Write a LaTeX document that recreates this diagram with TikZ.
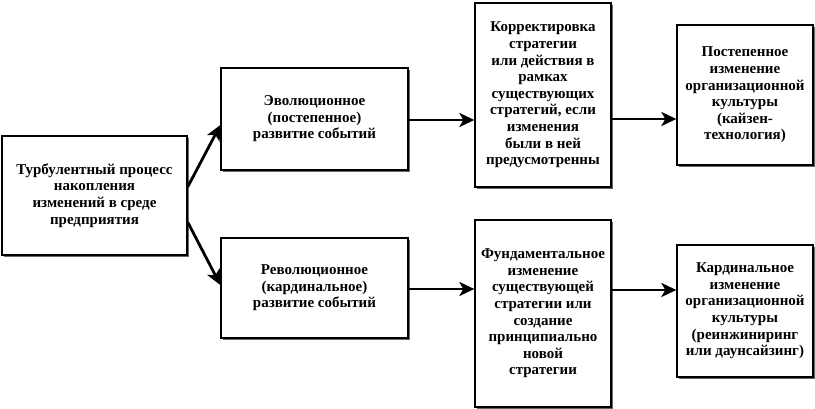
\documentclass[tikz,border=0pt]{standalone}
\usepackage{fontspec}
\setmainfont{Liberation Serif}
\usetikzlibrary{calc,arrows.meta}
\begin{document}
\begin{tikzpicture}[x=1pt,y=-1pt,
  box/.style={draw=black,line width=1.3pt,fill=white,align=center,inner sep=0pt,
    font=\fontsize{15}{16.6}\selectfont\bfseries,
    preaction={fill=black!60,transform canvas={xshift=2.2pt,yshift=-2.2pt}}},
  arr/.style={line width=2.8pt,-{Stealth[length=15pt,width=14pt,inset=4pt]}}]
\useasboundingbox (0,0) rectangle (815,409);
\node[box,minimum width=185pt,minimum height=119pt] (b1) at (94.5,195.5)
  {Турбулентный процесс\\накопления\\изменений в среде\\предприятия};
\node[box,minimum width=187pt,minimum height=102pt] (b2) at (314.5,119)
  {Эволюционное\\(постепенное)\\развитие событий};
\node[box,minimum width=136pt,minimum height=184pt] (b3) at (543,95)
  {Корректировка\\стратегии\\или действия в\\рамках\\существующих\\стратегий, если\\изменения\\были в ней\\предусмотренны};
\node[box,minimum width=136pt,minimum height=140pt] (b4) at (745,95)
  {Постепенное\\изменение\\организационной\\культуры\\(кайзен-\\технология)};
\node[box,minimum width=187pt,minimum height=100pt] (b5) at (314.5,288)
  {Революционное\\(кардинальное)\\развитие событий};
\node[box,minimum width=136pt,minimum height=187pt] (b6) at (543,313.5)
  {Фундаментальное\\изменение\\существующей\\стратегии или\\создание\\принципиально\\новой\\стратегии};
\node[box,minimum width=136pt,minimum height=132pt] (b7) at (745,311)
  {Кардинальное\\изменение\\организационной\\культуры\\(реинжиниринг\\или даунсайзинг)};
\coordinate (s1) at ($(b1.east)+(0,-8.5)$);
\coordinate (e1) at ($(b2.west)+(0,6)$);
\coordinate (s2) at ($(b1.east)+(0,26.5)$);
\coordinate (e2) at ($(b5.west)+(0,-3)$);
\coordinate (s3) at ($(b2.east)+(0,1)$);
\coordinate (s4) at ($(b3.east)+(0,24)$);
\coordinate (s5) at ($(b5.east)+(0,1)$);
\coordinate (s6) at ($(b6.east)+(0,-23.5)$);
\draw[arr] (s1) -- (e1);
\draw[arr] (s2) -- (e2);
\draw[arr] (s3) -- (s3 -| b3.west);
\draw[arr] (s4) -- (s4 -| b4.west);
\draw[arr] (s5) -- (s5 -| b6.west);
\draw[arr] (s6) -- (s6 -| b7.west);
\end{tikzpicture}
\end{document}
